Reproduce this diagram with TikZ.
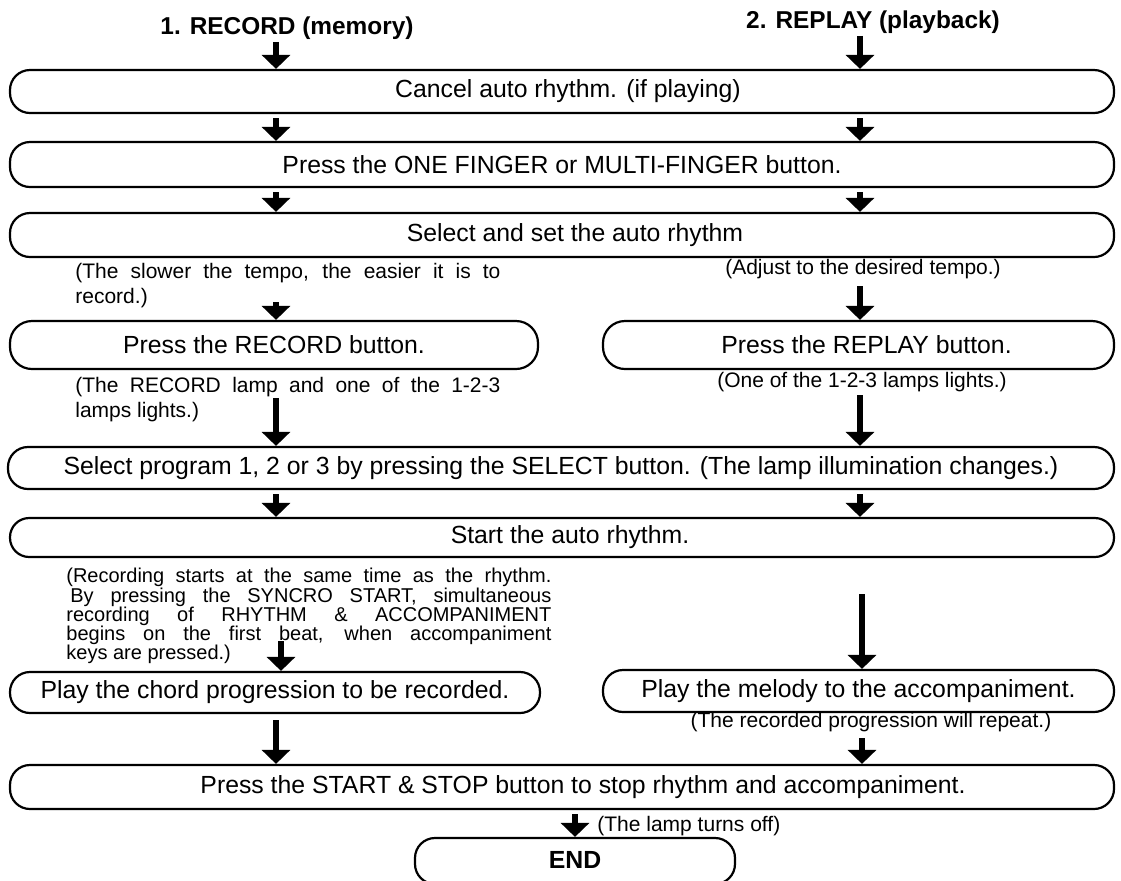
\documentclass[tikz,border=0pt]{standalone}
\usepackage{fontspec}
\setmainfont{Liberation Sans}
\usetikzlibrary{arrows.meta}
\newcommand\jl[2]{\makebox[#1][s]{#2}}
\begin{document}
\begin{tikzpicture}[x=0.5pt,y=-0.5pt,
  pill/.style={draw, line width=1.1pt, rounded corners=10pt, inner sep=0pt,
    font=\fontsize{12.4}{15}\selectfont},
  title/.style={inner sep=1pt, font=\fontsize{12.2}{15}\bfseries\selectfont},
  bigarrow/.style={line width=3.3pt, -{Triangle[width=14pt,length=7pt]}},
  notel/.style={inner sep=0pt, anchor=north west, align=left},
  noter/.style={inner sep=0pt, font=\fontsize{10.5}{12.5}\selectfont},
]
\useasboundingbox (0,0) rectangle (1121,880);
\fill[white] (0,0) rectangle (1121,880);

\coordinate (L) at (276,0);
\coordinate (R) at (860,0);

% titles
\node[title] (t1) at (287,28) {1. RECORD (memory)};
\node[title] (t2) at (873,22) {2. REPLAY (playback)};

% boxes
\node[pill, minimum width=552pt, minimum height=21.5pt] (b1) at (562,91.5) {\hspace*{6pt}Cancel auto rhythm. (if playing)};
\node[pill, minimum width=552pt, minimum height=22.5pt] (b2) at (562,164.5) {Press the ONE FINGER or MULTI-FINGER button.};
\node[pill, minimum width=552pt, minimum height=22pt] (b3) at (562,235) {\hspace*{13pt}Select and set the auto rhythm};
\node[pill, rounded corners=11pt, minimum width=264pt, minimum height=24pt] (brec) at (274,345) {Press the RECORD button.};
\node[pill, rounded corners=11pt, minimum width=255.5pt, minimum height=24pt] (brep) at (858.5,345) {\hspace*{8pt}Press the REPLAY button.};
\node[pill, minimum width=553pt, minimum height=21pt] (bsel) at (561,468) {Select program 1, 2 or 3 by pressing the SELECT button. (The lamp illumination changes.)};
\node[pill, rounded corners=9.6pt, minimum width=552pt, minimum height=19.5pt] (bstart) at (562,537.5) {\hspace*{8pt}Start the auto rhythm.};
\node[pill, minimum width=265pt, minimum height=20.5pt] (bchord) at (275,692.5) {Play the chord progression to be recorded.};
\node[pill, minimum width=255.5pt, minimum height=21pt] (bmel) at (858.5,691) {Play the melody to the accompaniment.};
\node[pill, minimum width=552pt, minimum height=22pt] (bss) at (562,787) {\hspace*{21pt}Press the START \& STOP button to stop rhythm and accompaniment.};
\node[pill, minimum width=160pt, minimum height=23pt, font=\fontsize{12.4}{15}\bfseries\selectfont] (bend) at (575,861) {\raisebox{1.5pt}{END}};

% notes left
\node[notel, font=\fontsize{10.5}{12.5}\selectfont] (n1) at (75,263)
  {\jl{212.5pt}{(The slower the tempo, the easier it is to}\\record.)};
\node[notel, font=\fontsize{10.5}{12.5}\selectfont] (n2) at (75,377)
  {\jl{212.5pt}{(The RECORD lamp and one of the 1-2-3}\\lamps lights.)};
\node[notel, font=\fontsize{10}{9.6}\selectfont] (n3) at (66,568)
  {\jl{242.5pt}{(Recording starts at the same time as the rhythm.}\\
   \jl{242.5pt}{\hspace*{2pt}By pressing the SYNCRO START, simultaneous}\\
   \jl{242.5pt}{recording of RHYTHM \& ACCOMPANIMENT}\\
   \jl{242.5pt}{begins on the first beat, when accompaniment}\\
   keys are pressed.)};

% notes right
\node[noter] (n4) at (863,269) {(Adjust to the desired tempo.)};
\node[noter] (n5) at (862,382) {(One of the 1-2-3 lamps lights.)};
\node[noter] (n6) at (871,722) {(The recorded progression will repeat.)};
\node[noter, anchor=west] (n7) at (597,826) {(The lamp turns off)};

% free arrow starts
\coordinate (s1) at (276,302);
\coordinate (s2) at (276,398);
\coordinate (s3) at (281,641);
\coordinate (s4) at (860,286);
\coordinate (s5) at (860,395);
\coordinate (s6) at (862,594);
\coordinate (s7) at (862,738);
\coordinate (s8) at (276,720);

% arrows
\draw[bigarrow] (t1.south -| L) -- (b1.north -| L);
\draw[bigarrow] (t2.south -| R) -- (b1.north -| R);
\draw[bigarrow, shorten <=2pt] (b1.south -| L) -- (b2.north -| L);
\draw[bigarrow, shorten <=2pt] (b1.south -| R) -- (b2.north -| R);
\draw[bigarrow, shorten <=2pt] (b2.south -| L) -- (b3.north -| L);
\draw[bigarrow, shorten <=2pt] (b2.south -| R) -- (b3.north -| R);
\draw[bigarrow] (s1) -- (brec.north -| s1);
\draw[bigarrow] (s4) -- (brep.north -| s4);
\draw[bigarrow] (s2) -- (bsel.north -| s2);
\draw[bigarrow] (s5) -- (bsel.north -| s5);
\draw[bigarrow, shorten <=2pt] (bsel.south -| L) -- (bstart.north -| L);
\draw[bigarrow, shorten <=2pt] (bsel.south -| R) -- (bstart.north -| R);
\draw[bigarrow] (s3) -- (bchord.north -| s3);
\draw[bigarrow] (s6) -- (bmel.north -| s6);
\draw[bigarrow] (s8) -- (bss.north -| s8);
\draw[bigarrow] (s7) -- (bss.north -| s7);
\draw[bigarrow, shorten <=2pt] (bss.south -| bend) -- (bend.north);
\end{tikzpicture}
\end{document}
